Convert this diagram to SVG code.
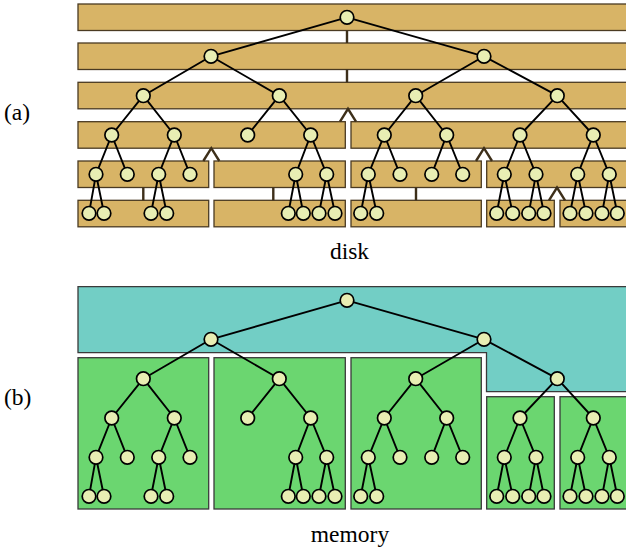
<svg xmlns="http://www.w3.org/2000/svg" width="626" height="548" viewBox="0 0 626 548">
<style>
.bar{fill:#d8b466;stroke:#4a3a22;stroke-width:1.3}
.link{stroke:#3d2f1a;stroke-width:2.4;fill:none}
.edge{stroke:#000;stroke-width:1.9;fill:none}
.nd{fill:#e8eeb3;stroke:#000;stroke-width:1.7}
.teal{fill:#72cec5;stroke:#3a3a3a;stroke-width:1.3}
.green{fill:#6bd670;stroke:#3a3a3a;stroke-width:1.3}
.lbl{font-size:23.5px;fill:#000}
</style>
<defs>
<g id="edges">
<path class="edge" d="M347,17.3L211,56.3M347,17.3L484,56.3
M211,56.3L143.3,95.7M211,56.3L279.3,95.7M484,56.3L415.7,95.7M484,56.3L557.3,95.7
M143.3,95.7L111.7,135M143.3,95.7L174.3,135M279.3,95.7L247.7,135M279.3,95.7L310.7,135
M415.7,95.7L384.3,135M415.7,95.7L446.7,135M557.3,95.7L520,135M557.3,95.7L593.3,135
M111.7,135L96,174.3M111.7,135L127.3,174.3M174.3,135L158.7,174.3M174.3,135L190,174.3
M310.7,135L295.7,174.3M310.7,135L326.7,174.3M384.3,135L368.3,174.3M384.3,135L400,174.3
M446.7,135L431.7,174.3M446.7,135L462.7,174.3M520,135L504.3,174.3M520,135L536,174.3
M593.3,135L577.7,174.3M593.3,135L609.3,174.3
M96,174.3L89,213.3M96,174.3L104,213.3M158.7,174.3L151,213.3M158.7,174.3L166.7,213.3
M295.7,174.3L288.3,213.3M295.7,174.3L303.3,213.3M326.7,174.3L319,213.3M326.7,174.3L335,213.3
M368.3,174.3L360.7,213.3M368.3,174.3L376.7,213.3M504.3,174.3L496.7,213.3M504.3,174.3L512.7,213.3
M536,174.3L528.7,213.3M536,174.3L544,213.3M577.7,174.3L570,213.3M577.7,174.3L586,213.3
M609.3,174.3L602,213.3M609.3,174.3L617.3,213.3"/>
</g>
<g id="nodes">
<circle class="nd" cx="347" cy="17.3" r="6.8"/>
<circle class="nd" cx="211" cy="56.3" r="6.8"/>
<circle class="nd" cx="484" cy="56.3" r="6.8"/>
<circle class="nd" cx="143.3" cy="95.7" r="6.8"/>
<circle class="nd" cx="279.3" cy="95.7" r="6.8"/>
<circle class="nd" cx="415.7" cy="95.7" r="6.8"/>
<circle class="nd" cx="557.3" cy="95.7" r="6.8"/>
<circle class="nd" cx="111.7" cy="135" r="6.8"/>
<circle class="nd" cx="174.3" cy="135" r="6.8"/>
<circle class="nd" cx="247.7" cy="135" r="6.8"/>
<circle class="nd" cx="310.7" cy="135" r="6.8"/>
<circle class="nd" cx="384.3" cy="135" r="6.8"/>
<circle class="nd" cx="446.7" cy="135" r="6.8"/>
<circle class="nd" cx="520" cy="135" r="6.8"/>
<circle class="nd" cx="593.3" cy="135" r="6.8"/>
<circle class="nd" cx="96" cy="174.3" r="6.8"/>
<circle class="nd" cx="127.3" cy="174.3" r="6.8"/>
<circle class="nd" cx="158.7" cy="174.3" r="6.8"/>
<circle class="nd" cx="190" cy="174.3" r="6.8"/>
<circle class="nd" cx="295.7" cy="174.3" r="6.8"/>
<circle class="nd" cx="326.7" cy="174.3" r="6.8"/>
<circle class="nd" cx="368.3" cy="174.3" r="6.8"/>
<circle class="nd" cx="400" cy="174.3" r="6.8"/>
<circle class="nd" cx="431.7" cy="174.3" r="6.8"/>
<circle class="nd" cx="462.7" cy="174.3" r="6.8"/>
<circle class="nd" cx="504.3" cy="174.3" r="6.8"/>
<circle class="nd" cx="536" cy="174.3" r="6.8"/>
<circle class="nd" cx="577.7" cy="174.3" r="6.8"/>
<circle class="nd" cx="609.3" cy="174.3" r="6.8"/>
<circle class="nd" cx="89" cy="213.3" r="6.8"/>
<circle class="nd" cx="104" cy="213.3" r="6.8"/>
<circle class="nd" cx="151" cy="213.3" r="6.8"/>
<circle class="nd" cx="166.7" cy="213.3" r="6.8"/>
<circle class="nd" cx="288.3" cy="213.3" r="6.8"/>
<circle class="nd" cx="303.3" cy="213.3" r="6.8"/>
<circle class="nd" cx="319" cy="213.3" r="6.8"/>
<circle class="nd" cx="335" cy="213.3" r="6.8"/>
<circle class="nd" cx="360.7" cy="213.3" r="6.8"/>
<circle class="nd" cx="376.7" cy="213.3" r="6.8"/>
<circle class="nd" cx="496.7" cy="213.3" r="6.8"/>
<circle class="nd" cx="512.7" cy="213.3" r="6.8"/>
<circle class="nd" cx="528.7" cy="213.3" r="6.8"/>
<circle class="nd" cx="544" cy="213.3" r="6.8"/>
<circle class="nd" cx="570" cy="213.3" r="6.8"/>
<circle class="nd" cx="586" cy="213.3" r="6.8"/>
<circle class="nd" cx="602" cy="213.3" r="6.8"/>
<circle class="nd" cx="617.3" cy="213.3" r="6.8"/>
</g>
</defs>

<!-- (a) disk blocks -->
<g id="disk-blocks">
<rect class="bar" x="78" y="4" width="562" height="26.5"/>
<rect class="bar" x="78" y="43" width="562" height="26.5"/>
<rect class="bar" x="78" y="82.3" width="562" height="26.5"/>
<rect class="bar" x="78" y="121.7" width="267.3" height="26.5"/>
<rect class="bar" x="351" y="121.7" width="289" height="26.5"/>
<rect class="bar" x="78" y="161" width="130.7" height="26.5"/>
<rect class="bar" x="214" y="161" width="131.3" height="26.5"/>
<rect class="bar" x="351" y="161" width="130.3" height="26.5"/>
<rect class="bar" x="486.7" y="161" width="153" height="26.5"/>
<rect class="bar" x="78" y="200.3" width="130.7" height="26.5"/>
<rect class="bar" x="214" y="200.3" width="131.3" height="26.5"/>
<rect class="bar" x="351" y="200.3" width="130.3" height="26.5"/>
<rect class="bar" x="486.7" y="200.3" width="67.6" height="26.5"/>
<rect class="bar" x="560" y="200.3" width="80" height="26.5"/>
</g>
<g id="disk-links">
<path class="link" d="M347,30.5V43M347,69.5V82.3
M340,121.7L348,108.8L356,121.7
M203.3,161L211.3,148.2L219.3,161
M476,161L484,148.2L492,161
M143.3,187.5V200.3M273.3,187.5V200.3M416,187.5V200.3
M549,200.3L557,187.5L565,200.3"/>
</g>
<g id="disk-tree-edges"><use href="#edges"/></g>
<g id="disk-tree-nodes"><use href="#nodes"/></g>

<!-- (b) memory blocks -->
<g id="memory-blocks">
<path class="teal" d="M78,286.7H640V391.7H486.5V352.7H78Z"/>
<rect class="green" x="78" y="357.7" width="130.7" height="151.3"/>
<rect class="green" x="214" y="357.7" width="131.3" height="151.3"/>
<rect class="green" x="351" y="357.7" width="130.3" height="151.3"/>
<rect class="green" x="486.7" y="396.7" width="67.6" height="112.3"/>
<rect class="green" x="560" y="396.7" width="80" height="112.3"/>
</g>
<g id="memory-tree-edges" transform="translate(0,283)"><use href="#edges"/></g>
<g id="memory-tree-nodes" transform="translate(0,283)"><use href="#nodes"/></g>

<g id="labels" font-family="'Liberation Serif', 'Times New Roman', serif">
<text class="lbl" x="4" y="120">(a)</text>
<text class="lbl" x="349.5" y="259" text-anchor="middle">disk</text>
<text class="lbl" x="4" y="405">(b)</text>
<text class="lbl" x="350" y="542" text-anchor="middle">memory</text>
</g>
</svg>
